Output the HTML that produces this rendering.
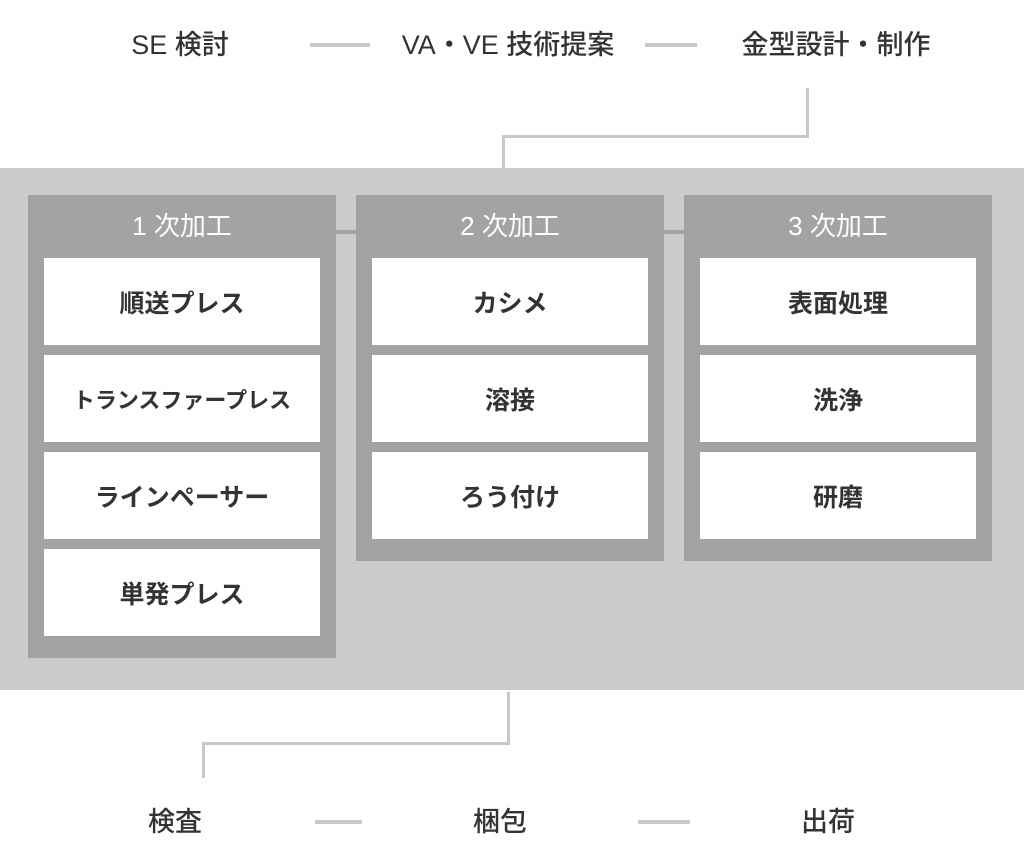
<!DOCTYPE html>
<html><head><meta charset="utf-8"><style>
*{margin:0;padding:0;box-sizing:border-box}
body{width:1024px;height:866px;background:#fff;position:relative;overflow:hidden;font-family:"Liberation Sans","Noto Sans CJK JP",sans-serif;color:#333}
.a{position:absolute}
.t{position:absolute;font-size:27px;font-weight:500;white-space:nowrap;transform:translateX(-50%);line-height:30px}
.col{position:absolute;background:#a3a3a3}
.h{position:absolute;left:0;right:0;top:16px;text-align:center;color:#fff;font-size:26px;line-height:30px}
.c{position:absolute;background:#fff;width:276px;height:87px;display:flex;align-items:center;justify-content:center;font-size:25px;font-weight:bold;color:#333;font-family:"Noto Sans CJK JP",sans-serif}
.ln{position:absolute;background:#c8c8c8}
</style></head><body>
<div class="t" style="left:180px;top:30px">SE 検討</div>
<div class="ln" style="left:310px;top:43px;width:60px;height:4px"></div>
<div class="t" style="left:508px;top:30px">VA・VE 技術提案</div>
<div class="ln" style="left:645px;top:43px;width:52px;height:4px"></div>
<div class="t" style="left:836px;top:30px">金型設計・制作</div>
<div class="ln" style="left:806px;top:88px;width:3px;height:50px"></div>
<div class="ln" style="left:502px;top:135px;width:307px;height:3px"></div>
<div class="ln" style="left:502px;top:135px;width:3px;height:35px"></div>
<div class="a" style="left:0;top:168px;width:1024px;height:522px;background:#cccccc"></div>
<div class="a" style="left:336px;top:230px;width:20px;height:4px;background:#a3a3a3"></div>
<div class="a" style="left:664px;top:230px;width:20px;height:4px;background:#a3a3a3"></div>
<div class="col" style="left:28px;top:195px;width:308px;height:463px"><div class="h">1 次加工</div>
<div class="c" style="left:16px;top:63px">順送プレス</div>
<div class="c" style="left:16px;top:160px;font-size:22px">トランスファープレス</div>
<div class="c" style="left:16px;top:257px">ラインペーサー</div>
<div class="c" style="left:16px;top:354px">単発プレス</div></div>
<div class="col" style="left:356px;top:195px;width:308px;height:366px"><div class="h">2 次加工</div>
<div class="c" style="left:16px;top:63px">カシメ</div>
<div class="c" style="left:16px;top:160px">溶接</div>
<div class="c" style="left:16px;top:257px">ろう付け</div></div>
<div class="col" style="left:684px;top:195px;width:308px;height:366px"><div class="h">3 次加工</div>
<div class="c" style="left:16px;top:63px">表面処理</div>
<div class="c" style="left:16px;top:160px">洗浄</div>
<div class="c" style="left:16px;top:257px">研磨</div></div>
<div class="ln" style="left:507px;top:692px;width:3px;height:53px"></div>
<div class="ln" style="left:202px;top:742px;width:308px;height:3px"></div>
<div class="ln" style="left:202px;top:742px;width:3px;height:36px"></div>
<div class="t" style="left:175px;top:807px">検査</div>
<div class="ln" style="left:315px;top:820px;width:47px;height:4px"></div>
<div class="t" style="left:500px;top:807px">梱包</div>
<div class="ln" style="left:638px;top:820px;width:52px;height:4px"></div>
<div class="t" style="left:828px;top:807px">出荷</div>
</body></html>
